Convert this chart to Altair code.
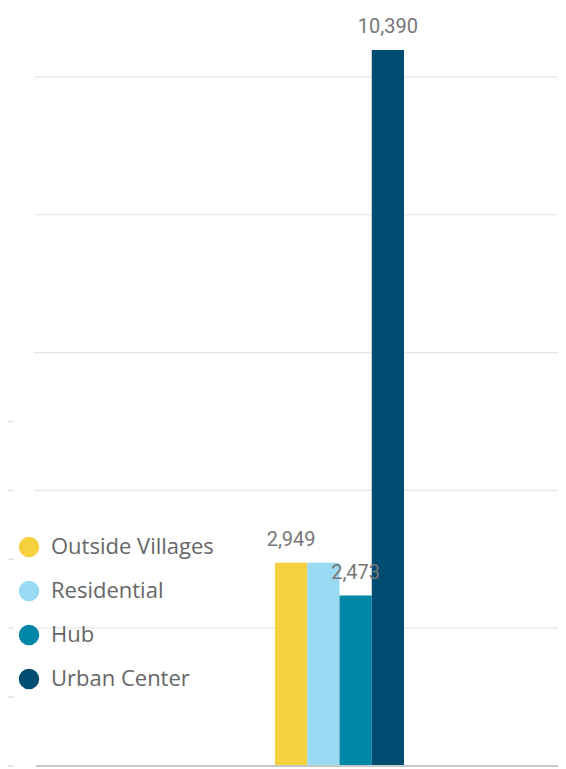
import altair as alt
import pandas as pd

series = ["Outside Villages", "Residential", "Hub", "Urban Center"]
values = [2949, 2949, 2473, 10390]
show_label = [True, False, True, True]
colors = ["#F5D13F", "#97DAF1", "#0087A8", "#014C71"]
grid_values = [2000, 4000, 6000, 8000, 10000]
dash_values = [0, 1000, 2000, 3000, 4000, 5000]

df = pd.DataFrame({"series": series, "value": values, "show": show_label})
dash_df = pd.DataFrame({"v": dash_values})
grid_df = pd.DataFrame({"v": grid_values})

y_scale = alt.Scale(domain=[0, 11000], nice=False)
x_scale = alt.Scale(domain=series, range=[241, 370], paddingInner=0, paddingOuter=0)

grid = alt.Chart(grid_df).mark_rule(color="#E6E6E6", strokeWidth=1.2).encode(
    y=alt.Y("v:Q", scale=y_scale, axis=None),
    x=alt.value(0),
    x2=alt.value(524),
)

bars = alt.Chart(df).mark_bar().encode(
    x=alt.X("series:N", scale=x_scale, axis=None, sort=series),
    y=alt.Y("value:Q", scale=y_scale, axis=None),
    color=alt.Color("series:N", sort=series,
                    scale=alt.Scale(domain=series, range=colors),
                    legend=alt.Legend(orient="none", legendX=-16, legendY=528, title=None,
                                      symbolType="circle", symbolSize=420, symbolStrokeWidth=0,
                                      labelFont="Open Sans", labelFontSize=22, labelLimit=400,
                                      labelColor="#666666", rowPadding=22, labelOffset=11,
                                      padding=0)),
)

labels = alt.Chart(df).transform_filter("datum.show").mark_text(
    dy=-17, baseline="alphabetic", font="Roboto", fontSize=20, color="#777777"
).encode(
    x=alt.X("series:N", scale=x_scale, axis=None, sort=series),
    y=alt.Y("value:Q", scale=y_scale, axis=None),
    text=alt.Text("value:Q", format=",.0f"),
)

baseline = alt.Chart(pd.DataFrame({"v": [0]})).mark_rule(color="#C8C8C8", strokeWidth=2).encode(
    y=alt.Y("v:Q", scale=y_scale, axis=None),
    x=alt.value(2),
    x2=alt.value(532),
)

dashes = alt.Chart(dash_df).mark_rule(color="#E2E2E2", strokeWidth=1.5).encode(
    y=alt.Y("v:Q", scale=y_scale, axis=None),
    x=alt.value(-26),
    x2=alt.value(-20),
)

chart = alt.layer(grid, dashes, bars, baseline, labels).properties(
    width=524, height=758,
    autosize=alt.AutoSizeParams(type="none"),
    padding={"left": 26, "top": 0, "right": 0, "bottom": 3},
    background="white",
).configure_view(stroke=None)

chart.save("out.html", embed_options={"renderer": "svg", "actions": False})
